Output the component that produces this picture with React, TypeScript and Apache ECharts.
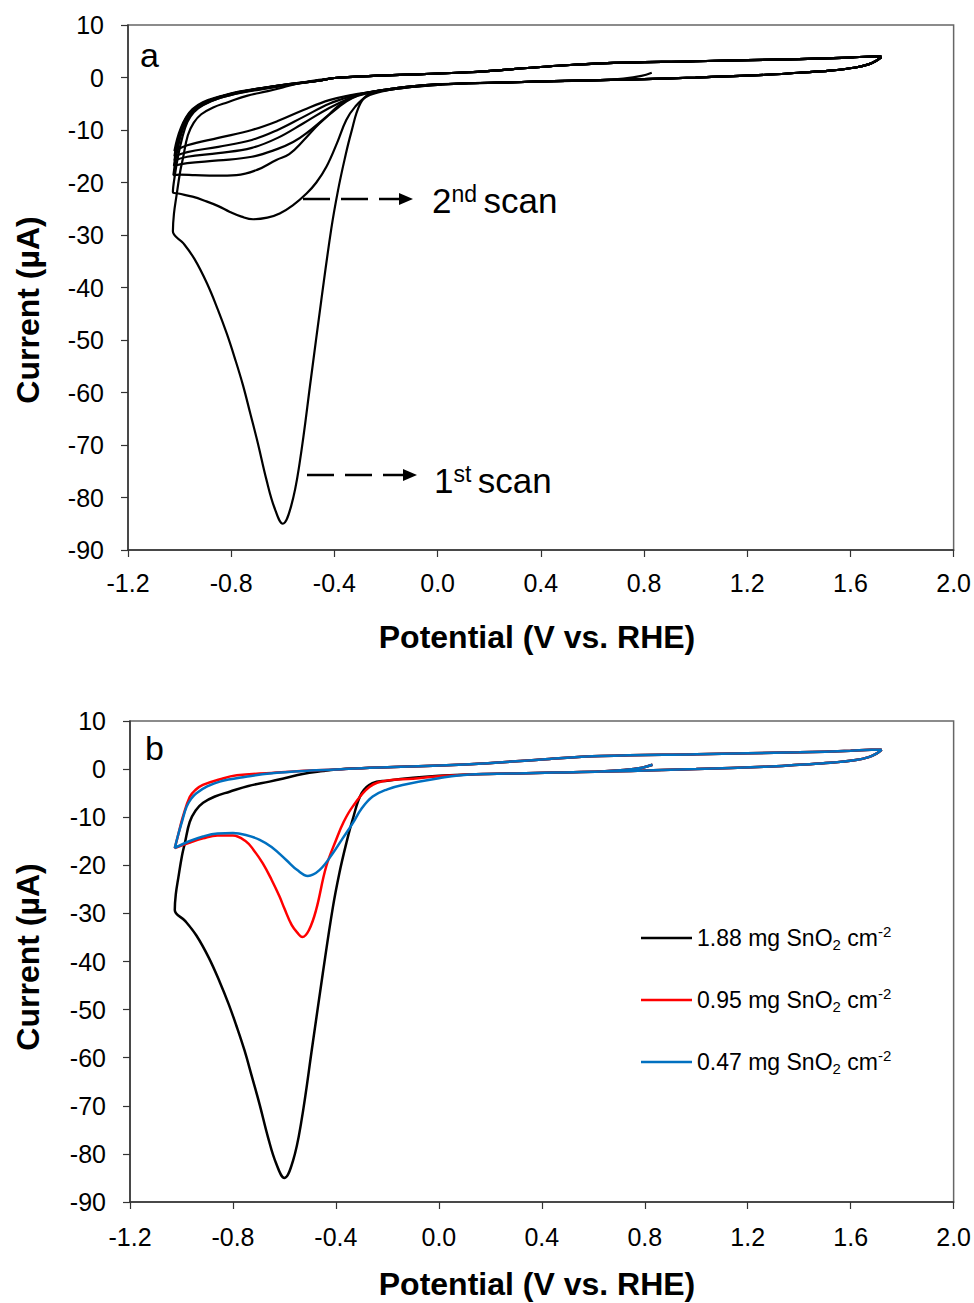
import React, { useEffect, useRef } from "react";
import * as echarts from "echarts";

type P = [number, number];

// Axis settings (both panels)
const X_MIN = -1.2;
const X_MAX = 2.0;
const X_STEP = 0.4;
const Y_MIN = -90;
const Y_MAX = 10;
const Y_STEP = 10;

// ---- shared high-potential portions (V vs RHE, µA) ----
const startOCP: P[] = [[0.83, 0.9], [0.79, 0.3], [0.72, -0.2], [0.63, -0.5]];
const cathodicTop: P[] = [[1.72, 3.9], [1.7, 3.2], [1.67, 2.5], [1.62, 1.9], [1.52, 1.3], [1.4, 0.9], [1.27, 0.5], [1.0, 0.0], [0.8, -0.3], [0.63, -0.5]];
const cathodicMid: P[] = [[0.45, -0.7], [0.3, -0.9], [0.12, -1.1]];
const anodicHigh: P[] = [[-0.4, -0.1], [-0.3, 0.2], [-0.2, 0.4], [0.12, 1.0], [0.4, 2.0], [0.63, 2.7], [1.0, 3.1], [1.4, 3.5], [1.6, 3.8], [1.68, 4.0], [1.72, 4.0]];

// ---- 1st scan (1.88 mg SnO2 cm-2) ----
const scan1Cath: P[] = [[0.0, -1.4], [-0.1, -1.8], [-0.2, -2.4], [-0.258, -2.9], [-0.3, -5.0], [-0.335, -10.5], [-0.36, -15.5], [-0.386, -21.5], [-0.412, -28.8], [-0.451, -42.5], [-0.49, -57.0], [-0.535, -73.5], [-0.567, -81.5], [-0.6, -85.0], [-0.632, -82.0], [-0.664, -76.5], [-0.696, -69.8], [-0.725, -64.2], [-0.755, -58.5], [-0.787, -53.3], [-0.817, -48.8], [-0.851, -44.3], [-0.894, -39.2], [-0.942, -34.6], [-0.985, -31.6], [-1.026, -29.3]];
const scan1Anod: P[] = [[-1.022, -26.0], [-1.012, -22.5], [-0.998, -18.0], [-0.987, -15.4], [-0.968, -11.0], [-0.945, -8.6], [-0.916, -7.0], [-0.87, -5.7], [-0.813, -4.7], [-0.74, -3.5], [-0.658, -2.6], [-0.6, -1.9], [-0.529, -1.0], [-0.45, -0.4]];

// ---- later scans, panel a ----
const scan2Cath: P[] = [[0.0, -1.4], [-0.1, -1.8], [-0.2, -2.5], [-0.276, -3.65], [-0.32, -5.6], [-0.354, -8.1], [-0.39, -12.5], [-0.431, -17.0], [-0.47, -20.0], [-0.508, -22.1], [-0.56, -24.3], [-0.612, -25.9], [-0.66, -26.7], [-0.715, -27.0], [-0.76, -26.5], [-0.805, -25.6], [-0.85, -24.5], [-0.896, -23.6], [-0.95, -22.7], [-1.005, -22.1], [-1.026, -21.8]];
const scan2Anod: P[] = [[-1.018, -18.5], [-1.006, -15.0], [-0.99, -11.5], [-0.97, -8.5], [-0.945, -6.6], [-0.91, -5.3], [-0.85, -4.0], [-0.76, -2.9], [-0.65, -2.0], [-0.55, -1.2], [-0.45, -0.5]];
const scan3Cath: P[] = [[0.0, -1.3], [-0.1, -1.8], [-0.2, -2.4], [-0.28, -3.1], [-0.33, -3.9], [-0.38, -5.5], [-0.457, -8.7], [-0.52, -12.0], [-0.575, -14.6], [-0.625, -15.7], [-0.7, -17.6], [-0.78, -18.6], [-0.86, -18.7], [-0.94, -18.6], [-1.0, -18.5], [-1.024, -18.6]];
const scan3Anod: P[] = [[-1.015, -15.5], [-1.003, -12.5], [-0.985, -9.5], [-0.96, -7.2], [-0.93, -5.8], [-0.88, -4.5], [-0.8, -3.3], [-0.7, -2.3], [-0.58, -1.4], [-0.46, -0.6]];
const scan4Cath: P[] = [[0.0, -1.3], [-0.1, -1.7], [-0.2, -2.3], [-0.28, -3.0], [-0.33, -3.8], [-0.38, -5.2], [-0.42, -7.0], [-0.508, -10.6], [-0.56, -12.3], [-0.62, -13.6], [-0.72, -15.1], [-0.85, -15.8], [-0.97, -16.3], [-1.022, -16.8]];
const scan4Anod: P[] = [[-1.012, -14.0], [-1.0, -11.5], [-0.983, -9.0], [-0.96, -7.0], [-0.93, -5.5], [-0.88, -4.3], [-0.8, -3.1], [-0.7, -2.2], [-0.58, -1.3], [-0.46, -0.6]];
const scan5Cath: P[] = [[0.0, -1.3], [-0.1, -1.7], [-0.2, -2.3], [-0.28, -3.0], [-0.33, -3.7], [-0.42, -5.8], [-0.52, -8.7], [-0.62, -11.5], [-0.72, -13.4], [-0.85, -14.4], [-0.97, -15.1], [-1.02, -15.8]];
const scan5Anod: P[] = [[-1.01, -13.0], [-0.997, -10.6], [-0.98, -8.4], [-0.955, -6.6], [-0.92, -5.2], [-0.87, -4.1], [-0.79, -3.0], [-0.69, -2.1], [-0.58, -1.3], [-0.46, -0.6]];
const scan6Cath: P[] = [[0.0, -1.3], [-0.1, -1.7], [-0.2, -2.3], [-0.28, -2.9], [-0.33, -3.5], [-0.42, -5.0], [-0.52, -7.5], [-0.62, -10.0], [-0.72, -11.9], [-0.85, -13.2], [-0.97, -14.2], [-1.02, -15.0]];
const scan6Anod: P[] = [[-1.01, -12.4], [-0.996, -10.1], [-0.978, -8.0], [-0.952, -6.3], [-0.915, -5.0], [-0.86, -3.9], [-0.78, -2.9], [-0.68, -2.0], [-0.57, -1.2], [-0.46, -0.6]];
const scan7Cath: P[] = [[0.0, -1.3], [-0.1, -1.7], [-0.2, -2.3], [-0.28, -2.9], [-0.33, -3.3], [-0.42, -4.3], [-0.52, -6.2], [-0.62, -8.3], [-0.72, -10.0], [-0.85, -11.5], [-0.97, -12.9], [-1.02, -14.0]];
const scan7Anod: P[] = [[-1.01, -11.8], [-0.995, -9.6], [-0.975, -7.6], [-0.95, -6.0], [-0.91, -4.7], [-0.85, -3.7], [-0.77, -2.7], [-0.67, -1.9], [-0.57, -1.2], [-0.46, -0.6]];

// ---- panel b: 0.95 and 0.47 mg SnO2 cm-2 ----
const redCath: P[] = [[0.0, -1.5], [-0.1, -2.0], [-0.205, -2.4], [-0.27, -3.7], [-0.335, -7.8], [-0.37, -11.0], [-0.399, -14.7], [-0.438, -20.3], [-0.477, -29.3], [-0.505, -33.5], [-0.53, -34.9], [-0.55, -34.0], [-0.572, -32.4], [-0.6, -29.0], [-0.619, -26.5], [-0.65, -23.0], [-0.684, -19.6], [-0.72, -16.8], [-0.748, -15.1], [-0.8, -13.8], [-0.86, -13.8], [-0.916, -14.4], [-0.97, -15.3], [-1.026, -16.4]];
const redAnod: P[] = [[-1.012, -13.5], [-0.995, -10.0], [-0.968, -5.8], [-0.945, -4.3], [-0.917, -3.3], [-0.85, -2.1], [-0.785, -1.3], [-0.65, -0.8], [-0.5, -0.3]];
const blueCath: P[] = [[0.0, -1.9], [-0.141, -3.3], [-0.2, -4.2], [-0.257, -5.7], [-0.3, -8.2], [-0.335, -11.3], [-0.375, -14.5], [-0.412, -17.5], [-0.464, -21.0], [-0.509, -22.2], [-0.55, -21.0], [-0.593, -18.9], [-0.65, -16.2], [-0.696, -14.7], [-0.75, -13.7], [-0.8, -13.3], [-0.86, -13.4], [-0.916, -14.0], [-0.97, -15.0], [-1.026, -16.4]];
const blueAnod: P[] = [[-1.012, -13.5], [-1.0, -11.3], [-0.98, -7.8], [-0.96, -6.0], [-0.942, -5.0], [-0.9, -3.6], [-0.851, -2.6], [-0.75, -1.6], [-0.658, -0.9], [-0.5, -0.3]];

const legendNames = ["1.88 mg SnO2 cm-2", "0.95 mg SnO2 cm-2", "0.47 mg SnO2 cm-2"];
const legendLoads = ["1.88", "0.95", "0.47"];
const colorsB = ["#000000", "#ff0000", "#0070c0"];

const join = (...parts: P[][]): P[] => ([] as P[]).concat(...parts);

const panelAScans: P[][] = [
  join(startOCP, cathodicMid, scan1Cath, scan1Anod, anodicHigh),
  join(cathodicTop, cathodicMid, scan2Cath, scan2Anod, anodicHigh),
  join(cathodicTop, cathodicMid, scan3Cath, scan3Anod, anodicHigh),
  join(cathodicTop, cathodicMid, scan4Cath, scan4Anod, anodicHigh),
  join(cathodicTop, cathodicMid, scan5Cath, scan5Anod, anodicHigh),
  join(cathodicTop, cathodicMid, scan6Cath, scan6Anod, anodicHigh),
  join(cathodicTop, cathodicMid, scan7Cath, scan7Anod, anodicHigh),
];

const panelBCurves: P[][] = [
  join(startOCP, cathodicMid, scan1Cath, scan1Anod, anodicHigh, cathodicTop),
  join(startOCP, cathodicMid, redCath, redAnod, anodicHigh, cathodicTop),
  join(startOCP, cathodicMid, blueCath, blueAnod, anodicHigh, cathodicTop),
];

const FONT = "Arial, 'Liberation Sans', sans-serif";

function makeX(gridIndex: number, margin: number) {
  return {
    gridIndex,
    type: "value",
    min: X_MIN,
    max: X_MAX,
    interval: X_STEP,
    axisLine: { show: true, onZero: false, lineStyle: { color: "#333", width: 1.5 } },
    axisTick: { show: true, inside: false, length: 7, lineStyle: { color: "#333", width: 1.2 } },
    axisLabel: { fontSize: 25, color: "#000", fontFamily: FONT, margin, formatter: (v: number) => v.toFixed(1) },
    splitLine: { show: false },
  };
}
function makeY(gridIndex: number, margin: number) {
  return {
    gridIndex,
    type: "value",
    min: Y_MIN,
    max: Y_MAX,
    interval: Y_STEP,
    axisLine: { show: true, onZero: false, lineStyle: { color: "#333", width: 1.5 } },
    axisTick: { show: true, inside: false, length: 7, lineStyle: { color: "#333", width: 1.2 } },
    axisLabel: { fontSize: 25, color: "#000", fontFamily: FONT, margin, formatter: (v: number) => String(Math.round(v)) },
    splitLine: { show: false },
  };
}

function scanText(x: number, y: number, main: string, sup: string) {
  return {
    type: "text",
    x,
    y,
    style: {
      text: `{m|${main}}{s|${sup} }{m|scan}`,
      align: "left",
      verticalAlign: "middle",
      fill: "#000",
      rich: {
        m: { fontSize: 35, fontFamily: FONT, lineHeight: 36, fill: "#000" },
        s: { fontSize: 23, fontFamily: FONT, lineHeight: 23, verticalAlign: "top", fill: "#000" },
      },
    },
  };
}

export default function App() {
  const ref = useRef<HTMLDivElement>(null);
  useEffect(() => {
    if (!ref.current) return;
    const chart = echarts.init(ref.current, undefined, { renderer: "svg" });
    const series: any[] = [];
    panelAScans.forEach((d, i) => {
      series.push({
        type: "line",
        name: "scan " + (i + 1),
        xAxisIndex: 0,
        yAxisIndex: 0,
        data: d,
        symbol: "none",
        showSymbol: false,
        smooth: 0.4,
        silent: true,
        lineStyle: { color: "#000", width: 2.2 },
      });
    });
    panelBCurves.forEach((d, i) => {
      series.push({
        type: "line",
        name: legendNames[i],
        xAxisIndex: 1,
        yAxisIndex: 1,
        data: d,
        symbol: "none",
        showSymbol: false,
        smooth: 0.4,
        silent: true,
        color: colorsB[i],
        lineStyle: { color: colorsB[i], width: 2.5 },
      });
    });

    const option: any = {
      animation: false,
      backgroundColor: "#fff",
      grid: [
        { left: 128, top: 25, width: 827, height: 525, show: true, borderColor: "#666", borderWidth: 1.5 },
        { left: 130, top: 721, width: 826, height: 481, show: true, borderColor: "#666", borderWidth: 1.5 },
      ],
      xAxis: [makeX(0, 20), makeX(1, 22)],
      yAxis: [makeY(0, 24), makeY(1, 24)],
      legend: {
        data: legendNames,
        orient: "vertical",
        left: 641,
        top: 924,
        padding: 0,
        icon: "rect",
        itemWidth: 51,
        itemHeight: 2.5,
        itemGap: 34,
        selectedMode: false,
        formatter: (name: string) => {
          const i = legendNames.indexOf(name);
          return `{n|${legendLoads[i]} mg SnO}{sub|2}{n| cm}{sup|-2}`;
        },
        textStyle: {
          color: "#000",
          fontFamily: FONT,
          fontSize: 23,
          rich: {
            n: { fontSize: 23, fontFamily: FONT, lineHeight: 28, color: "#000" },
            sub: { fontSize: 15, fontFamily: FONT, lineHeight: 15, verticalAlign: "bottom", color: "#000" },
            sup: { fontSize: 15, fontFamily: FONT, lineHeight: 15, verticalAlign: "top", color: "#000" },
          },
        },
      },
      graphic: [
        { type: "text", x: 140, y: 55, style: { text: "a", font: `34px ${FONT}`, fill: "#000", align: "left", verticalAlign: "middle" } },
        { type: "text", x: 145, y: 748, style: { text: "b", font: `34px ${FONT}`, fill: "#000", align: "left", verticalAlign: "middle" } },
        { type: "text", x: 537, y: 637, style: { text: "Potential (V vs. RHE)", font: `bold 32px ${FONT}`, fill: "#000", align: "center", verticalAlign: "middle" } },
        { type: "text", x: 537, y: 1284, style: { text: "Potential (V vs. RHE)", font: `bold 32px ${FONT}`, fill: "#000", align: "center", verticalAlign: "middle" } },
        { type: "text", x: 28, y: 310, rotation: Math.PI / 2, style: { text: "Current (µA)", font: `bold 32px ${FONT}`, fill: "#000", align: "center", verticalAlign: "middle" } },
        { type: "text", x: 28, y: 957, rotation: Math.PI / 2, style: { text: "Current (µA)", font: `bold 32px ${FONT}`, fill: "#000", align: "center", verticalAlign: "middle" } },
        { type: "line", shape: { x1: 303, y1: 199, x2: 402, y2: 199 }, style: { stroke: "#000", lineWidth: 2.5, lineDash: [27, 11] } },
        { type: "polygon", shape: { points: [[399, 193], [413, 199], [399, 205]] }, style: { fill: "#000" } },
        { type: "line", shape: { x1: 307, y1: 475, x2: 406, y2: 475 }, style: { stroke: "#000", lineWidth: 2.5, lineDash: [27, 11] } },
        { type: "polygon", shape: { points: [[403, 469], [417, 475], [403, 481]] }, style: { fill: "#000" } },
        scanText(432, 200, "2", "nd"),
        scanText(434, 480, "1", "st"),
      ],
      series,
    };
    chart.setOption(option);
    return () => chart.dispose();
  }, []);
  return <div ref={ref} style={{ position: "absolute", left: 0, top: 0, width: 974, height: 1303 }} />;
}
